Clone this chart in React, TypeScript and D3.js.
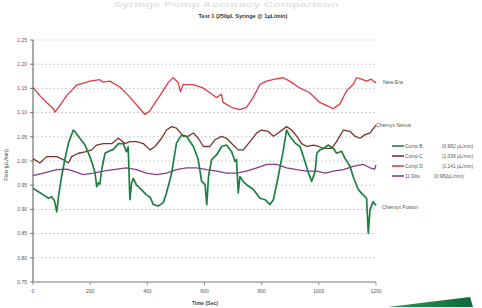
import React from "react";
import * as d3 from "d3";

// flow readings (uL/min) against time (sec)
const compBTime = [0, 15, 36, 54, 65, 75, 83, 90, 100, 112, 124, 141, 150, 164, 182, 199, 210, 217, 223, 229, 234, 240, 252, 265, 281, 299, 316, 327, 333, 339, 345, 351, 362, 374, 397, 410, 421, 438, 456, 467, 485, 502, 520, 537, 561, 578, 590, 602, 608, 614, 625, 643, 660, 677, 695, 707, 712, 718, 724, 735, 747, 771, 794, 812, 829, 841, 858, 876, 887, 899, 917, 934, 946, 964, 975, 987, 993, 1004, 1016, 1033, 1051, 1062, 1080, 1091, 1109, 1120, 1138, 1155, 1167, 1173, 1179, 1190, 1200];
const compBFlow = [0.944, 0.938, 0.93, 0.923, 0.926, 0.918, 0.895, 0.93, 0.968, 1.005, 1.037, 1.064, 1.058, 1.047, 1.033, 1.009, 0.99, 0.975, 0.947, 0.955, 0.952, 0.981, 1.016, 1.02, 1.024, 1.036, 1.036, 1.019, 1.029, 0.92, 0.955, 0.964, 0.95, 0.944, 0.93, 0.925, 0.91, 0.907, 0.914, 0.934, 0.975, 1.037, 1.054, 1.051, 1.03, 1.003, 0.958, 0.951, 0.91, 0.968, 1.003, 1.013, 1.03, 1.033, 1.019, 0.999, 1.003, 0.934, 0.968, 0.958, 0.951, 0.941, 0.923, 0.92, 0.91, 0.92, 0.968, 1.023, 1.064, 1.051, 1.037, 1.03, 1.009, 0.975, 0.958, 0.978, 1.016, 1.023, 1.026, 1.033, 1.026, 1.016, 1.02, 1.006, 0.989, 0.968, 0.941, 0.93, 0.923, 0.851, 0.899, 0.916, 0.908];

const compCTime = [0, 24, 48, 83, 106, 124, 135, 159, 182, 205, 223, 246, 276, 299, 322, 339, 362, 386, 409, 427, 450, 467, 485, 502, 526, 543, 561, 578, 596, 619, 637, 660, 677, 695, 718, 736, 759, 783, 800, 823, 841, 858, 887, 905, 923, 940, 958, 981, 999, 1016, 1033, 1045, 1062, 1086, 1109, 1127, 1144, 1161, 1179, 1196, 1200];
const compCFlow = [1.005, 0.996, 1.009, 1.009, 1.003, 0.996, 1.009, 1.016, 1.019, 1.023, 1.033, 1.036, 1.036, 1.047, 1.036, 1.04, 1.04, 1.036, 1.023, 1.03, 1.047, 1.064, 1.071, 1.068, 1.051, 1.051, 1.058, 1.047, 1.03, 1.03, 1.044, 1.051, 1.047, 1.036, 1.023, 1.023, 1.04, 1.058, 1.064, 1.061, 1.051, 1.058, 1.071, 1.064, 1.051, 1.036, 1.03, 1.033, 1.03, 1.026, 1.026, 1.026, 1.04, 1.064, 1.061, 1.051, 1.047, 1.054, 1.058, 1.071, 1.074];

const compDTime = [0, 24, 48, 71, 77, 89, 118, 153, 199, 234, 246, 269, 304, 339, 374, 392, 409, 444, 473, 490, 508, 516, 525, 560, 595, 642, 659, 665, 694, 724, 747, 770, 794, 817, 846, 875, 898, 933, 968, 1003, 1026, 1050, 1074, 1097, 1120, 1132, 1149, 1167, 1184, 1196, 1200];
const compDFlow = [1.152, 1.135, 1.121, 1.108, 1.101, 1.111, 1.135, 1.157, 1.165, 1.168, 1.163, 1.165, 1.153, 1.132, 1.108, 1.096, 1.104, 1.135, 1.162, 1.172, 1.162, 1.143, 1.158, 1.158, 1.151, 1.131, 1.138, 1.121, 1.111, 1.106, 1.111, 1.131, 1.158, 1.165, 1.169, 1.172, 1.165, 1.151, 1.141, 1.121, 1.115, 1.108, 1.118, 1.145, 1.158, 1.172, 1.169, 1.165, 1.169, 1.162, 1.163];

const ditsTime = [0, 36, 83, 118, 141, 176, 211, 246, 281, 327, 362, 397, 432, 467, 502, 537, 572, 608, 643, 677, 712, 747, 783, 818, 852, 887, 923, 958, 993, 1022, 1051, 1086, 1120, 1155, 1179, 1195, 1200];
const ditsFlow = [0.97, 0.975, 0.982, 0.983, 0.979, 0.972, 0.975, 0.979, 0.982, 0.986, 0.982, 0.975, 0.972, 0.975, 0.982, 0.986, 0.986, 0.982, 0.979, 0.975, 0.975, 0.979, 0.986, 0.993, 0.993, 0.986, 0.982, 0.979, 0.979, 0.975, 0.979, 0.982, 0.989, 0.993, 0.986, 0.983, 0.992];

const legendNames = ["Comp B", "Comp C", "Comp D", "11 Dits"];
const legendRates = ["(0.982 µL/min)", "(1.039 µL/min)", "(1.141 µL/min)", "(0.982µL/min)"];
const endLabels = ["Chemyx Fusion", "Chemyx Nexus", "New Era"];

const yTicks = [0.75, 0.8, 0.85, 0.9, 0.95, 1.0, 1.05, 1.1, 1.15, 1.2, 1.25];
const xTicks = [0, 200, 400, 600, 800, 1000, 1200];

const colors = ["#1f7f43", "#7a3426", "#dc3b45", "#8c3a8a"];
const FONT = "Liberation Sans, Arial, sans-serif";

export default function App() {
  const x = d3.scaleLinear().domain([0, 1200]).range([33, 376]);
  const y = d3.scaleLinear().domain([0.75, 1.25]).range([282, 40]);

  const series = [
    { t: compBTime, v: compBFlow },
    { t: compCTime, v: compCFlow },
    { t: compDTime, v: compDFlow },
    { t: ditsTime, v: ditsFlow },
  ];

  const pathFor = (s: { t: number[]; v: number[] }) =>
    d3
      .line<number>()
      .x((_, i) => x(s.t[i]))
      .y((d) => y(d))(s.v) || "";

  // draw order: dits, comp C, comp D, comp B on top
  const order = [3, 1, 2, 0];

  return (
    <svg
      width={482}
      height={308}
      style={{ position: "absolute", left: 0, top: 0, background: "#fff" }}
      fontFamily={FONT}
    >
      <defs>
        <linearGradient id="wedge" x1="0" x2="1" y1="0" y2="0">
          <stop offset="0" stopColor="#2f9a5c" />
          <stop offset="1" stopColor="#0a6a36" />
        </linearGradient>
      </defs>

      {/* faint headline */}
      <text
        x={226}
        y={7}
        textAnchor="middle"
        fontSize={8}
        fontWeight="bold"
        fill="#e2e2e2"
        textLength={225}
        lengthAdjust="spacingAndGlyphs"
      >
        Syringe Pump Accuracy Comparison
      </text>

      <text x={243} y={18} textAnchor="middle" fontSize={5.6} fontWeight="bold" fill="#333">
        Test 1 (250µL Syringe @ 1µL/min)
      </text>

      {/* grid */}
      {yTicks.slice(1).map((v) => (
        <line
          key={v}
          x1={x(0)}
          x2={x(1200) + 1}
          y1={y(v)}
          y2={y(v)}
          stroke="#b8b8b8"
          strokeWidth={0.7}
          strokeDasharray="2,2"
        />
      ))}

      {/* axes */}
      <line x1={x(0)} x2={x(0)} y1={y(1.25)} y2={y(0.75)} stroke="#555" strokeWidth={1} />
      <line x1={x(0)} x2={x(1200)} y1={y(0.75)} y2={y(0.75)} stroke="#777" strokeWidth={1} />
      {yTicks.map((v) => (
        <g key={v}>
          <line x1={x(0) - 3} x2={x(0)} y1={y(v)} y2={y(v)} stroke="#555" strokeWidth={0.8} />
          <text x={27} y={y(v) + 1.8} textAnchor="end" fontSize={5} fill="#555">
            {v.toFixed(2)}
          </text>
        </g>
      ))}
      {xTicks.map((t) => (
        <g key={t}>
          <line x1={x(t)} x2={x(t)} y1={y(0.75)} y2={y(0.75) + 3} stroke="#777" strokeWidth={0.8} />
          <text x={x(t)} y={293} textAnchor="middle" fontSize={5} fill="#555">
            {t}
          </text>
        </g>
      ))}
      <text x={205} y={305} textAnchor="middle" fontSize={5.2} fontWeight="bold" fill="#444">
        Time (Sec)
      </text>
      <text
        transform={`translate(8,${165}) rotate(-90)`}
        textAnchor="middle"
        fontSize={5.2}
        fill="#444"
      >
        Flow (µL/min)
      </text>

      {/* series */}
      {order.map((i) => (
        <path
          key={i}
          d={pathFor(series[i])}
          fill="none"
          stroke={colors[i]}
          strokeWidth={i === 0 ? 1.7 : 1.3}
          strokeLinejoin="round"
        />
      ))}

      {/* end labels */}
      <text x={382} y={209} fontSize={5.2} fill="#555">
        {endLabels[0]}
      </text>
      <text x={376} y={127} fontSize={5.2} fill="#555">
        {endLabels[1]}
      </text>
      <text x={383} y={84} fontSize={5.2} fill="#555">
        {endLabels[2]}
      </text>

      {/* legend */}
      {legendNames.map((name, i) => (
        <g key={name} transform={`translate(392,${146 + i * 10})`}>
          <line x1={0} x2={12} y1={0} y2={0} stroke={colors[i]} strokeWidth={1.6} />
          <text x={13} y={1.8} fontSize={4.8} fill="#555">
            {name}
          </text>
          <text x={i === 3 ? 42 : 50} y={1.8} fontSize={4.8} fill="#555">
            {legendRates[i]}
          </text>
        </g>
      ))}

      {/* green wedge decoration */}
      <polygon points="388,307 470,297 473,307" fill="url(#wedge)" />
    </svg>
  );
}
